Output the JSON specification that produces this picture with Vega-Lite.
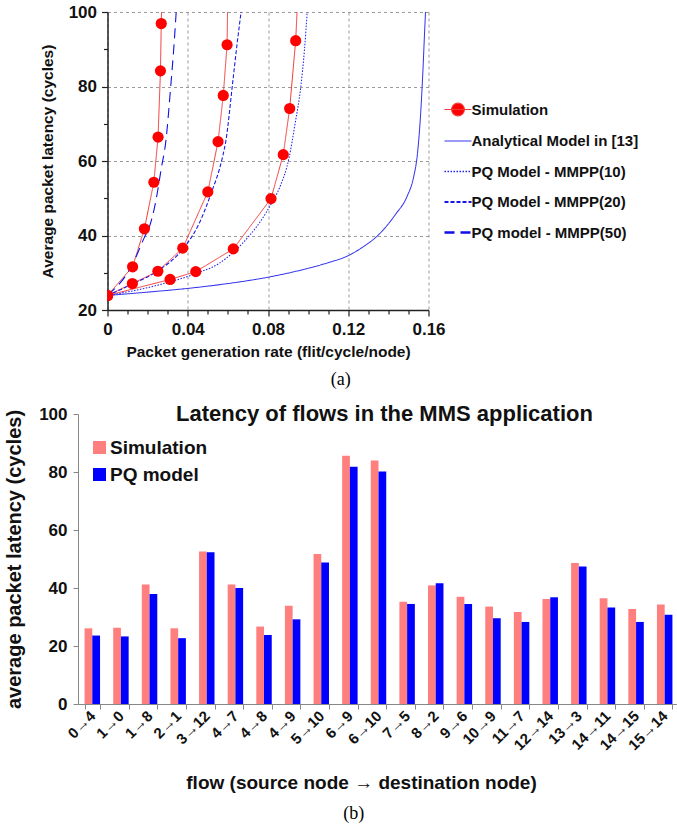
{
  "$schema": "https://vega.github.io/schema/vega-lite/v6.json",
  "padding": {"left": 4, "top": 3, "right": 0, "bottom": 0},
  "background": "white",
  "config": {
    "font": "Liberation Sans",
    "view": {"stroke": null},
    "title": {"font": "Liberation Sans"}
  },
  "resolve": {"scale": {"color": "independent", "x": "independent", "y": "independent"}, "legend": {"color": "independent"}},
  "title": {"text": "(b)", "orient": "bottom", "anchor": "middle", "frame": "bounds", "font": "Liberation Serif", "fontSize": 18, "fontWeight": "normal", "color": "#000", "offset": 12, "dx": 12},
  "spacing": 14,
  "center": true,
  "datasets": {
    "curves": [
      {"run": "sim50", "series": "Simulation", "rate": 0, "latency": 23.9},
      {"run": "sim50", "series": "Simulation", "rate": 0.0125, "latency": 31.6},
      {"run": "sim50", "series": "Simulation", "rate": 0.0184, "latency": 41.8},
      {"run": "sim50", "series": "Simulation", "rate": 0.0231, "latency": 54.3},
      {"run": "sim50", "series": "Simulation", "rate": 0.0252, "latency": 66.4},
      {"run": "sim50", "series": "Simulation", "rate": 0.0264, "latency": 84.2},
      {"run": "sim50", "series": "Simulation", "rate": 0.0268, "latency": 96.9},
      {"run": "sim50", "series": "Simulation", "rate": 0.0271, "latency": 106},
      {"run": "sim20", "series": "Simulation", "rate": 0, "latency": 23.9},
      {"run": "sim20", "series": "Simulation", "rate": 0.0124, "latency": 27.1},
      {"run": "sim20", "series": "Simulation", "rate": 0.0251, "latency": 30.4},
      {"run": "sim20", "series": "Simulation", "rate": 0.0375, "latency": 36.6},
      {"run": "sim20", "series": "Simulation", "rate": 0.05, "latency": 51.7},
      {"run": "sim20", "series": "Simulation", "rate": 0.0551, "latency": 65.2},
      {"run": "sim20", "series": "Simulation", "rate": 0.0577, "latency": 77.6},
      {"run": "sim20", "series": "Simulation", "rate": 0.0596, "latency": 91.2},
      {"run": "sim20", "series": "Simulation", "rate": 0.06, "latency": 106},
      {"run": "sim10", "series": "Simulation", "rate": 0, "latency": 23.9},
      {"run": "sim10", "series": "Simulation", "rate": 0.0312, "latency": 28.2},
      {"run": "sim10", "series": "Simulation", "rate": 0.044, "latency": 30.3},
      {"run": "sim10", "series": "Simulation", "rate": 0.0627, "latency": 36.4},
      {"run": "sim10", "series": "Simulation", "rate": 0.0815, "latency": 49.9},
      {"run": "sim10", "series": "Simulation", "rate": 0.0876, "latency": 61.7},
      {"run": "sim10", "series": "Simulation", "rate": 0.0908, "latency": 74.1},
      {"run": "sim10", "series": "Simulation", "rate": 0.0938, "latency": 92.3},
      {"run": "sim10", "series": "Simulation", "rate": 0.095, "latency": 106},
      {"run": "ana", "series": "Analytical Model in [13]", "rate": 0, "latency": 23.9},
      {"run": "ana", "series": "Analytical Model in [13]", "rate": 0.02, "latency": 24.8},
      {"run": "ana", "series": "Analytical Model in [13]", "rate": 0.04, "latency": 25.8},
      {"run": "ana", "series": "Analytical Model in [13]", "rate": 0.06, "latency": 27.1},
      {"run": "ana", "series": "Analytical Model in [13]", "rate": 0.08, "latency": 28.8},
      {"run": "ana", "series": "Analytical Model in [13]", "rate": 0.1, "latency": 31.2},
      {"run": "ana", "series": "Analytical Model in [13]", "rate": 0.11, "latency": 32.7},
      {"run": "ana", "series": "Analytical Model in [13]", "rate": 0.12, "latency": 34.6},
      {"run": "ana", "series": "Analytical Model in [13]", "rate": 0.127, "latency": 36.8},
      {"run": "ana", "series": "Analytical Model in [13]", "rate": 0.1353, "latency": 40.3},
      {"run": "ana", "series": "Analytical Model in [13]", "rate": 0.1436, "latency": 45.7},
      {"run": "ana", "series": "Analytical Model in [13]", "rate": 0.1494, "latency": 50.6},
      {"run": "ana", "series": "Analytical Model in [13]", "rate": 0.1525, "latency": 55.5},
      {"run": "ana", "series": "Analytical Model in [13]", "rate": 0.1545, "latency": 62},
      {"run": "ana", "series": "Analytical Model in [13]", "rate": 0.156, "latency": 72},
      {"run": "ana", "series": "Analytical Model in [13]", "rate": 0.1572, "latency": 84},
      {"run": "ana", "series": "Analytical Model in [13]", "rate": 0.158, "latency": 94},
      {"run": "ana", "series": "Analytical Model in [13]", "rate": 0.1586, "latency": 101},
      {"run": "m10", "series": "PQ Model - MMPP(10)", "rate": 0, "latency": 23.9},
      {"run": "m10", "series": "PQ Model - MMPP(10)", "rate": 0.02, "latency": 26.0},
      {"run": "m10", "series": "PQ Model - MMPP(10)", "rate": 0.044, "latency": 29.8},
      {"run": "m10", "series": "PQ Model - MMPP(10)", "rate": 0.055, "latency": 32.3},
      {"run": "m10", "series": "PQ Model - MMPP(10)", "rate": 0.0627, "latency": 35.5},
      {"run": "m10", "series": "PQ Model - MMPP(10)", "rate": 0.07, "latency": 39.5},
      {"run": "m10", "series": "PQ Model - MMPP(10)", "rate": 0.0765, "latency": 44},
      {"run": "m10", "series": "PQ Model - MMPP(10)", "rate": 0.0815, "latency": 48.4},
      {"run": "m10", "series": "PQ Model - MMPP(10)", "rate": 0.0855, "latency": 52.5},
      {"run": "m10", "series": "PQ Model - MMPP(10)", "rate": 0.0905, "latency": 60.9},
      {"run": "m10", "series": "PQ Model - MMPP(10)", "rate": 0.0935, "latency": 70},
      {"run": "m10", "series": "PQ Model - MMPP(10)", "rate": 0.0963, "latency": 79.7},
      {"run": "m10", "series": "PQ Model - MMPP(10)", "rate": 0.0982, "latency": 90},
      {"run": "m10", "series": "PQ Model - MMPP(10)", "rate": 0.0996, "latency": 100.5},
      {"run": "m20", "series": "PQ Model - MMPP(20)", "rate": 0, "latency": 23.9},
      {"run": "m20", "series": "PQ Model - MMPP(20)", "rate": 0.0125, "latency": 27.0},
      {"run": "m20", "series": "PQ Model - MMPP(20)", "rate": 0.0251, "latency": 30.5},
      {"run": "m20", "series": "PQ Model - MMPP(20)", "rate": 0.0382, "latency": 36.8},
      {"run": "m20", "series": "PQ Model - MMPP(20)", "rate": 0.045, "latency": 42.5},
      {"run": "m20", "series": "PQ Model - MMPP(20)", "rate": 0.0515, "latency": 51.1},
      {"run": "m20", "series": "PQ Model - MMPP(20)", "rate": 0.0573, "latency": 61},
      {"run": "m20", "series": "PQ Model - MMPP(20)", "rate": 0.059, "latency": 65.4},
      {"run": "m20", "series": "PQ Model - MMPP(20)", "rate": 0.0623, "latency": 80.6},
      {"run": "m20", "series": "PQ Model - MMPP(20)", "rate": 0.0645, "latency": 91},
      {"run": "m20", "series": "PQ Model - MMPP(20)", "rate": 0.0667, "latency": 100.5},
      {"run": "m50", "series": "PQ model - MMPP(50)", "rate": 0, "latency": 23.9},
      {"run": "m50", "series": "PQ model - MMPP(50)", "rate": 0.0125, "latency": 32.3},
      {"run": "m50", "series": "PQ model - MMPP(50)", "rate": 0.0184, "latency": 39.5},
      {"run": "m50", "series": "PQ model - MMPP(50)", "rate": 0.0208, "latency": 42.2},
      {"run": "m50", "series": "PQ model - MMPP(50)", "rate": 0.0241, "latency": 49.3},
      {"run": "m50", "series": "PQ model - MMPP(50)", "rate": 0.0268, "latency": 58},
      {"run": "m50", "series": "PQ model - MMPP(50)", "rate": 0.0291, "latency": 65.4},
      {"run": "m50", "series": "PQ model - MMPP(50)", "rate": 0.0316, "latency": 80.6},
      {"run": "m50", "series": "PQ model - MMPP(50)", "rate": 0.033, "latency": 90},
      {"run": "m50", "series": "PQ model - MMPP(50)", "rate": 0.0343, "latency": 100.5}
    ],
    "flows": [
      {"flow": "0→4", "source": "Simulation", "latency": 26.1}, {"flow": "0→4", "source": "PQ model", "latency": 23.6},
      {"flow": "1→0", "source": "Simulation", "latency": 26.3}, {"flow": "1→0", "source": "PQ model", "latency": 23.3},
      {"flow": "1→8", "source": "Simulation", "latency": 41.2}, {"flow": "1→8", "source": "PQ model", "latency": 37.9},
      {"flow": "2→1", "source": "Simulation", "latency": 26.1}, {"flow": "2→1", "source": "PQ model", "latency": 22.7},
      {"flow": "3→12", "source": "Simulation", "latency": 52.6}, {"flow": "3→12", "source": "PQ model", "latency": 52.3},
      {"flow": "4→7", "source": "Simulation", "latency": 41.2}, {"flow": "4→7", "source": "PQ model", "latency": 40.0},
      {"flow": "4→8", "source": "Simulation", "latency": 26.7}, {"flow": "4→8", "source": "PQ model", "latency": 23.8},
      {"flow": "4→9", "source": "Simulation", "latency": 33.9}, {"flow": "4→9", "source": "PQ model", "latency": 29.2},
      {"flow": "5→10", "source": "Simulation", "latency": 51.7}, {"flow": "5→10", "source": "PQ model", "latency": 48.8},
      {"flow": "6→9", "source": "Simulation", "latency": 85.6}, {"flow": "6→9", "source": "PQ model", "latency": 81.8},
      {"flow": "6→10", "source": "Simulation", "latency": 84.0}, {"flow": "6→10", "source": "PQ model", "latency": 80.2},
      {"flow": "7→5", "source": "Simulation", "latency": 35.3}, {"flow": "7→5", "source": "PQ model", "latency": 34.5},
      {"flow": "8→2", "source": "Simulation", "latency": 40.9}, {"flow": "8→2", "source": "PQ model", "latency": 41.6},
      {"flow": "9→6", "source": "Simulation", "latency": 37.0}, {"flow": "9→6", "source": "PQ model", "latency": 34.5},
      {"flow": "10→9", "source": "Simulation", "latency": 33.6}, {"flow": "10→9", "source": "PQ model", "latency": 29.6},
      {"flow": "11→7", "source": "Simulation", "latency": 31.7}, {"flow": "11→7", "source": "PQ model", "latency": 28.3},
      {"flow": "12→14", "source": "Simulation", "latency": 36.2}, {"flow": "12→14", "source": "PQ model", "latency": 36.8},
      {"flow": "13→3", "source": "Simulation", "latency": 48.6}, {"flow": "13→3", "source": "PQ model", "latency": 47.4},
      {"flow": "14→11", "source": "Simulation", "latency": 36.5}, {"flow": "14→11", "source": "PQ model", "latency": 33.3},
      {"flow": "14→15", "source": "Simulation", "latency": 32.8}, {"flow": "14→15", "source": "PQ model", "latency": 28.3},
      {"flow": "15→14", "source": "Simulation", "latency": 34.3}, {"flow": "15→14", "source": "PQ model", "latency": 30.8}
    ]
  },
  "vconcat": [
    {
      "width": 321,
      "height": 298,
      "data": {"name": "curves"},
      "title": {"text": "(a)", "orient": "bottom", "anchor": "middle", "frame": "bounds", "font": "Liberation Serif", "fontSize": 18, "fontWeight": "normal", "color": "#000", "offset": 11, "dx": -4},
      "encoding": {
        "x": {
          "field": "rate", "type": "quantitative",
          "scale": {"domain": [0, 0.16], "nice": false},
          "axis": {
            "title": "Packet generation rate (flit/cycle/node)",
            "values": [0, 0.01, 0.02, 0.03, 0.04, 0.05, 0.06, 0.07, 0.08, 0.09, 0.1, 0.11, 0.12, 0.13, 0.14, 0.15, 0.16],
            "labelExpr": "round(datum.value*100) % 4 === 0 ? (datum.value === 0 ? '0' : format(datum.value, '.2f')) : ''",
            "tickSize": {"condition": {"test": "round(datum.value*100) % 4 === 0", "value": 6}, "value": 4},
            "gridOpacity": {"condition": {"test": "round(datum.value*100) % 4 === 0", "value": 1}, "value": 0},
            "grid": true, "gridDash": [3, 3], "gridColor": "#9a9a9a", "gridWidth": 1,
            "domainColor": "#222", "domainWidth": 1.5, "tickColor": "#222", "tickWidth": 1.2,
            "labelFont": "Liberation Sans", "labelFontSize": 17, "labelFontWeight": "bold", "labelColor": "#111", "labelPadding": 5,
            "labelOverlap": false, "labelFlush": false,
            "titleFont": "Liberation Sans", "titleFontSize": 15.5, "titleFontWeight": "bold", "titleColor": "#111", "titlePadding": 7
          }
        },
        "y": {
          "field": "latency", "type": "quantitative",
          "scale": {"domain": [20, 100], "nice": false, "zero": false},
          "axis": {
            "title": "Average packet latency (cycles)",
            "values": [20, 30, 40, 50, 60, 70, 80, 90, 100],
            "labelExpr": "datum.value % 20 === 0 ? datum.label : ''",
            "tickSize": {"condition": {"test": "datum.value % 20 === 0", "value": 6}, "value": 4},
            "gridOpacity": {"condition": {"test": "datum.value % 20 === 0", "value": 1}, "value": 0},
            "grid": true, "gridDash": [3, 3], "gridColor": "#9a9a9a", "gridWidth": 1,
            "domainColor": "#222", "domainWidth": 1.5, "tickColor": "#222", "tickWidth": 1.2,
            "labelFont": "Liberation Sans", "labelFontSize": 17, "labelFontWeight": "bold", "labelColor": "#111", "labelPadding": 5,
            "labelOverlap": false, "labelFlush": false,
            "titleFont": "Liberation Sans", "titleFontSize": 15.5, "titleFontWeight": "bold", "titleColor": "#111", "titlePadding": 13
          }
        },
        "color": {
          "field": "series", "type": "nominal",
          "scale": {"domain": ["Simulation", "Analytical Model in [13]", "PQ Model - MMPP(10)", "PQ Model - MMPP(20)", "PQ model - MMPP(50)"], "range": ["#f03a3a", "#3535f0", "#2222ee", "#1515e8", "#1010e6"]},
          "legend": {
            "orient": "none", "legendX": 332, "legendY": 79, "title": null, "padding": 11,
            "symbolType": "stroke", "symbolSize": 729, "rowPadding": 14.5,
            "labelFont": "Liberation Sans", "labelFontSize": 15, "labelFontWeight": "bold", "labelColor": "#111", "labelOffset": 6, "labelLimit": 400,
            "encode": {
              "symbols": {
                "update": {
                  "shape": {"signal": "datum.value === 'Simulation' ? 'M-1,0H1M0.47,0A0.47,0.47 0 1 1 -0.47,0A0.47,0.47 0 1 1 0.47,0Z' : 'stroke'"},
                  "fill": {"signal": "datum.value === 'Simulation' ? '#ff0000' : 'transparent'"},
                  "strokeDash": {"signal": "datum.value === 'PQ Model - MMPP(10)' ? [1.5, 1.5] : datum.value === 'PQ Model - MMPP(20)' ? [4, 2] : datum.value === 'PQ model - MMPP(50)' ? [10, 6] : [1, 0]"},
                  "strokeWidth": {"signal": "datum.value === 'PQ Model - MMPP(10)' ? 1.6 : datum.value === 'PQ Model - MMPP(20)' ? 2 : datum.value === 'PQ model - MMPP(50)' ? 2.4 : 1.1"}
                }
              }
            }
          }
        },
        "strokeDash": {
          "field": "series", "type": "nominal", "legend": null,
          "scale": {"domain": ["Simulation", "Analytical Model in [13]", "PQ Model - MMPP(10)", "PQ Model - MMPP(20)", "PQ model - MMPP(50)"], "range": [[1, 0], [1, 0], [1.5, 1.5], [4, 2], [10, 6]]}
        },
        "strokeWidth": {
          "field": "series", "type": "ordinal", "legend": null,
          "scale": {"domain": ["Simulation", "Analytical Model in [13]", "PQ Model - MMPP(10)", "PQ Model - MMPP(20)", "PQ model - MMPP(50)"], "range": [1, 1.1, 1.6, 2, 2.4]}
        }
      },
      "layer": [
        {
          "transform": [{"filter": "datum.series === 'Simulation'"}],
          "mark": {"type": "line", "clip": true},
          "encoding": {"detail": {"field": "run"}}
        },
        {
          "transform": [{"filter": "datum.series !== 'Simulation'"}],
          "mark": {"type": "line", "clip": true, "interpolate": "monotone"},
          "encoding": {"detail": {"field": "run"}}
        },
        {
          "transform": [{"filter": "datum.series === 'Simulation'"}],
          "mark": {"type": "point", "filled": true, "size": 125, "opacity": 1, "clip": true},
          "encoding": {"color": {"value": "#ff0000"}, "strokeDash": {"value": [1, 0]}, "strokeWidth": {"value": 0}}
        }
      ]
    },
    {
      "width": 601,
      "height": 290,
      "data": {"name": "flows"},
      "title": {"text": "Latency of flows in the MMS application", "font": "Liberation Sans", "fontSize": 22, "fontWeight": "bold", "color": "#111", "anchor": "middle", "frame": "group", "offset": -21, "dx": 6},
      "mark": {"type": "bar"},
      "encoding": {
        "x": {
          "field": "flow", "type": "nominal", "sort": null,
          "scale": {"paddingInner": 0.46, "paddingOuter": 0.23},
          "axis": {
            "title": "flow (source node → destination node)",
            "labelAngle": -45, "labelAlign": "right", "labelBaseline": "middle",
            "tickBand": "extent", "tickSize": 5, "tickColor": "#888", "domainColor": "#888",
            "labelFont": "Liberation Sans", "labelFontSize": 15, "labelFontWeight": "bold", "labelColor": "#111", "labelPadding": 4,
            "labelOverlap": false,
            "titleFont": "Liberation Sans", "titleFontSize": 19, "titleFontWeight": "bold", "titleColor": "#111", "titlePadding": 21,
            "titleX": 283, "titleAlign": "center"
          }
        },
        "xOffset": {"field": "source", "type": "nominal", "sort": ["Simulation", "PQ model"], "scale": {"paddingInner": 0, "paddingOuter": 0}},
        "y": {
          "field": "latency", "type": "quantitative",
          "scale": {"domain": [0, 100], "nice": false},
          "axis": {
            "title": "average packet latency (cycles)",
            "values": [0, 20, 40, 60, 80, 100], "grid": false,
            "tickSize": 5, "tickColor": "#888", "domainColor": "#888",
            "labelFont": "Liberation Sans", "labelFontSize": 17, "labelFontWeight": "bold", "labelColor": "#111", "labelPadding": 6,
            "titleFont": "Liberation Sans", "titleFontSize": 20, "titleFontWeight": "bold", "titleColor": "#111", "titlePadding": 14
          }
        },
        "color": {
          "field": "source", "type": "nominal",
          "scale": {"domain": ["Simulation", "PQ model"], "range": ["#ff7f7f", "#0000ff"]},
          "legend": {
            "orient": "none", "legendX": 12, "legendY": 24, "title": null, "padding": 0,
            "symbolType": "square", "symbolSize": 169, "symbolStrokeWidth": 0, "rowPadding": 7,
            "labelFont": "Liberation Sans", "labelFontSize": 19, "labelFontWeight": "bold", "labelColor": "#111", "labelOffset": 1
          }
        }
      }
    }
  ]
}
